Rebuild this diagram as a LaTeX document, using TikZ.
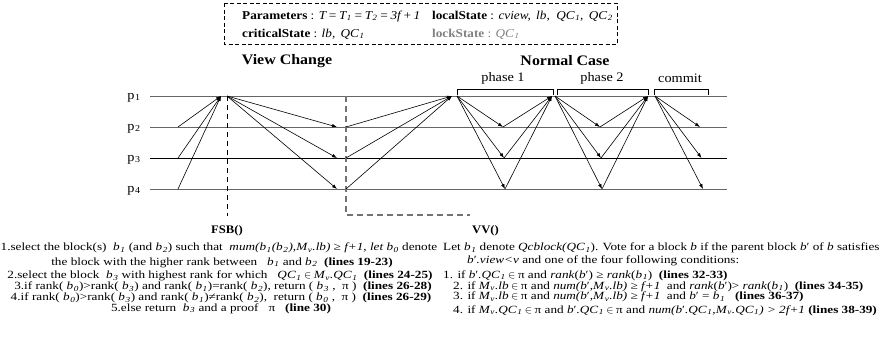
\documentclass[tikz,border=0pt]{standalone}
\usepackage{fontspec}
\setmainfont{Liberation Serif}[FakeStretch=1.1]
\newfontfamily\bodyfont{Liberation Serif}[FakeStretch=1.2]
\usetikzlibrary{arrows.meta}
\newcommand\subx[1]{\kern0.6pt\textsubscript{#1}}
\newcommand\inx{\hspace{2.5pt}$\in$\hspace{2.5pt}}
\newcommand\bp{\textit{b}′}
\tikzset{
  txt/.style={inner sep=0pt, anchor=base, text height=7.5pt, text depth=2pt, font=\bodyfont\fontsize{11}{12}\selectfont},
  txtl/.style={txt, anchor=base west},
  boxtxt/.style={inner sep=0pt, anchor=base west, font=\fontsize{12}{14}\selectfont},
  title/.style={inner sep=0pt, anchor=base, font=\fontsize{14.5}{17}\selectfont\bfseries},
  phasetxt/.style={inner sep=0pt, anchor=base, font=\fontsize{13}{15}\selectfont},
  plabel/.style={inner sep=0pt, anchor=base, font=\fontsize{13}{15}\selectfont},
  proc/.style={line width=1pt},
  msg/.style={-{Latex[length=5pt,width=3.6pt]}, line width=0.6pt},
  bracket/.style={line width=0.8pt},
  vdash/.style={line width=0.7pt, dash pattern=on 5pt off 4pt},
  gdash/.style={line width=1.1pt, draw=black!55, dash pattern=on 6pt off 4pt},
  parbox/.style={line width=0.8pt, dash pattern=on 4pt off 2.5pt},
}
\begin{document}
\begin{tikzpicture}[x=1pt,y=-1pt]
\useasboundingbox (0,0) rectangle (885,341);
% parameter box
\draw[parbox] (224,3) rectangle (617,44);
\node[boxtxt] (par) at (242,19) {\textbf{Parameters} : \textit{T\,=\,T\subx{1}\,=\,T\subx{2}\,=\,3f\,+\,1}};
\node[boxtxt] (loc) at (432,19) {\textbf{localState} : \textit{cview,\, lb,\ \ QC\subx{1},\, QC\subx{2}}};
\node[boxtxt] (cri) at (242,37) {\textbf{criticalState} : \textit{lb,\, QC\subx{1}}};
\node[boxtxt, text=black!50] (lck) at (432,37) {\textbf{lockState} : \textit{QC\subx{1}}};
% titles
\node[title] (vc) at (287,64) {View Change};
\node[title] (nc) at (565,65) {Normal Case};
\node[phasetxt] (ph1) at (503,81) {phase 1};
\node[phasetxt] (ph2) at (602,81) {phase 2};
\node[phasetxt] (cm) at (680,82) {commit};
% process lines
\foreach \i/\y/\c in {1/96/black!60, 2/127/black!60, 3/158/black, 4/189/black!60} {
  \coordinate (s\i) at (150,\y);
  \coordinate (e\i) at (727,\y);
  \draw[proc, draw=\c] (s\i) -- (e\i);
  \node[plabel] (p\i) at (134,\y+3) {p\subx{\i}};
}
% brackets
\draw[bracket] (457,95) -- (457,89) -- (553,89) -- (553,95);
\draw[bracket] (557,95) -- (557,89) -- (648,89) -- (648,95);
\draw[bracket] (654,95) -- (654,89) -- (708,89) -- (708,95);
% dashed separators
\coordinate (d1a) at (227,96);
\coordinate (d1b) at (227,216);
\draw[vdash] (d1a) -- (d1b);
\coordinate (d2a) at (346,96);
\coordinate (d2b) at (346,215);
\coordinate (d2c) at (470,215);
\draw[gdash] (d2a) -- (d2b) -- (d2c);
% view change messages
\coordinate (v0) at (221,96);
\coordinate (w0) at (227,96);
\coordinate (x0) at (452,96);
\foreach \i/\y in {2/127,3/158,4/189} {
  \coordinate (a\i) at (178,\y);
  \coordinate (b\i) at (337,\y);
  \coordinate (c\i) at (346,\y);
  \draw[msg] (a\i) -- (v0);
  \draw[msg] (w0) -- (b\i);
  \draw[msg] (c\i) -- (x0);
}
% normal case
\coordinate (q1) at (457,96);
\coordinate (r1) at (552,96);
\coordinate (q2) at (555,96);
\coordinate (r2) at (648,96);
\coordinate (q3) at (655,96);
\foreach \i/\y/\dx in {2/127/0,3/158/1,4/189/2} {
  \coordinate (m\i) at (503+\dx,\y);
  \coordinate (n\i) at (600+\dx,\y);
  \coordinate (k\i) at (700+1.5*\dx,\y);
  \draw[msg] (q1) -- (m\i);
  \draw[msg] (m\i) -- (r1);
  \draw[msg] (q2) -- (n\i);
  \draw[msg] (n\i) -- (r2);
  \draw[msg] (q3) -- (k\i);
}
% FSB text
\node[txt, font=\fontsize{11.5}{13}\selectfont\bfseries] (fsb) at (227,233) {FSB()};
\node[txt] (f1) at (219,250.5) {1.select the block(s)\ \ \textit{b\subx{1}} (and \textit{b\subx{2}}) such that\ \ \textit{mum(b\subx{1}(b\subx{2}),M\subx{v}.lb) ≥ f+1, let b\subx{0}} denote};
\node[txt] (f2) at (222,265) {the block with the higher rank between\ \ \ \textit{b\subx{1}} and \textit{b\subx{2}}\ \ \textbf{(lines 19-23)}};
\node[txt] (f3) at (220,278.5) {2.select the block\ \ \textit{b\subx{3}} with highest rank for which\ \ \ \textit{QC\subx{1}}\inx\textit{M\subx{v}.QC\subx{1}}\ \ \textbf{(lines 24-25)}};
\node[txt] (f4) at (223,289.5) {3.if rank( \textit{b\subx{0}})>rank( \textit{b\subx{3}}) and rank( \textit{b\subx{1}})=rank( \textit{b\subx{2}}), return ( \textit{b\subx{3}} ,\ \ π )\ \ \textbf{(lines 26-28)}};
\node[txt] (f5) at (221,300.5) {4.if rank( \textit{b\subx{0}})>rank( \textit{b\subx{3}}) and rank( \textit{b\subx{1}})≠rank( \textit{b\subx{2}}),\ \ return ( \textit{b\subx{0}} ,\ \ π )\ \ \textbf{(lines 26-29)}};
\node[txt] (f6) at (221,311) {5.else return\ \ \textit{b\subx{3}} and a proof\ \ \ π\ \ \ \textbf{(line 30)}};
% VV text
\node[txtl, font=\fontsize{11.5}{13}\selectfont\bfseries] (vv) at (472,233) {VV()};
\node[txtl] (g1) at (443,250.5) {Let \textit{b\subx{1}} denote \textit{Qcblock(QC\subx{1}}). Vote for a block \textit{b} if the parent block \bp{} of \textit{b} satisfies};
\node[txtl] (g2) at (467,263.5) {\bp\textit{.view<v} and one of the four following conditions:};
\node[txtl] (g3) at (443,278) {1. if \bp\textit{.QC\subx{1}}\inx π and \textit{rank}(\bp) ≥ \textit{rank}(\textit{b\subx{1}})\ \ \textbf{(lines 32-33)}};
\node[txtl] (g4) at (453,289) {2. if \textit{M\subx{v}.lb}\inx π and \textit{num(b}′\textit{,M\subx{v}.lb) ≥ f+1}\ \ and \textit{rank}(\bp)> \textit{rank}(\textit{b\subx{1}})\ \ \textbf{(lines 34-35)}};
\node[txtl] (g5) at (453,299.5) {3. if \textit{M\subx{v}.lb}\inx π and \textit{num(b}′\textit{,M\subx{v}.lb) ≥ f+1}\ \ and \bp{} = \textit{b\subx{1}}\ \ \ \textbf{(lines 36-37)}};
\node[txtl] (g6) at (453,313) {4. if \textit{M\subx{v}.QC\subx{1}}\inx π and \bp\textit{.QC\subx{1}}\inx π and \textit{num(b}′\textit{.QC\subx{1},M\subx{v}.QC\subx{1}) > 2f+1} \textbf{(lines 38-39)}};
\end{tikzpicture}
\end{document}
